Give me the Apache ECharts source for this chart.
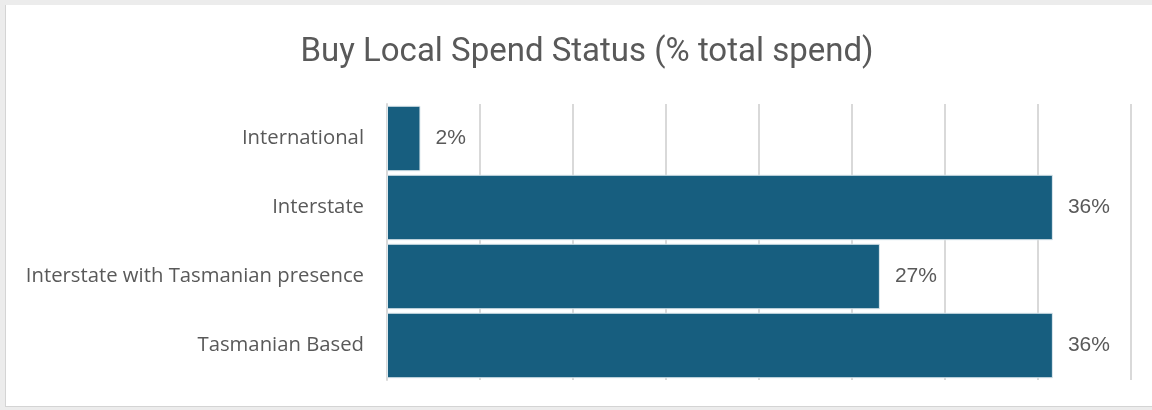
<!DOCTYPE html>
<html>
<head>
<meta charset="utf-8">
<script src="https://cdn.jsdelivr.net/npm/echarts@6/dist/echarts.min.js"></script>
<style>
  html, body { margin: 0; padding: 0; background: #ececec; }
  #frame { position: absolute; left: 5px; top: 5px; width: 1147px; height: 401px;
           background: #ffffff; border-left: 1px solid #d4d4d4; border-bottom: 1px solid #d4d4d4; }
  #chart { position: absolute; left: 0; top: 0; width: 1152px; height: 410px; }
</style>
</head>
<body>
<div id="frame"></div>
<div id="chart"></div>
<script>
// Share of total spend by supplier location
const categories = ['International', 'Interstate', 'Interstate with Tasmanian presence', 'Tasmanian Based'];
const spendShare = [1.8, 35.8, 26.5, 35.8];

const chart = echarts.init(document.getElementById('chart'), null, { renderer: 'canvas' });
chart.setOption({
  backgroundColor: 'transparent',
  animation: false,
  title: {
    text: 'Buy Local Spend Status (% total spend)',
    left: 582, top: 31, textAlign: 'center',
    textStyle: { fontFamily: "'Roboto', sans-serif", fontSize: 33, fontWeight: 'normal', color: '#595959' }
  },
  grid: { left: 387, right: 21, top: 104, bottom: 30, containLabel: false },
  xAxis: {
    type: 'value', min: 0, max: 40, interval: 5,
    axisLabel: { show: false }, axisTick: { show: false }, axisLine: { show: false },
    splitLine: { lineStyle: { color: '#d9d9d9', width: 2 } }
  },
  yAxis: {
    type: 'category', data: categories, inverse: true,
    axisTick: { show: false },
    axisLine: { show: true, lineStyle: { color: '#d9d9d9', width: 2 } },
    axisLabel: { margin: 23, fontFamily: "'Open Sans', sans-serif", fontSize: 20.3, color: '#595959', padding: [4, 0, 0, 0] }
  },
  series: [{
    type: 'bar', data: spendShare, barCategoryGap: '5%',
    itemStyle: { color: '#175e7f', borderColor: '#dfe9ee', borderWidth: 1 },
    label: {
      show: true, position: 'right', distance: 15,
      formatter: p => Math.round(p.value) + '%',
      fontFamily: "'Liberation Sans', Arial, sans-serif", fontSize: 21, color: '#595959'
    }
  }]
});
</script>
</body>
</html>
